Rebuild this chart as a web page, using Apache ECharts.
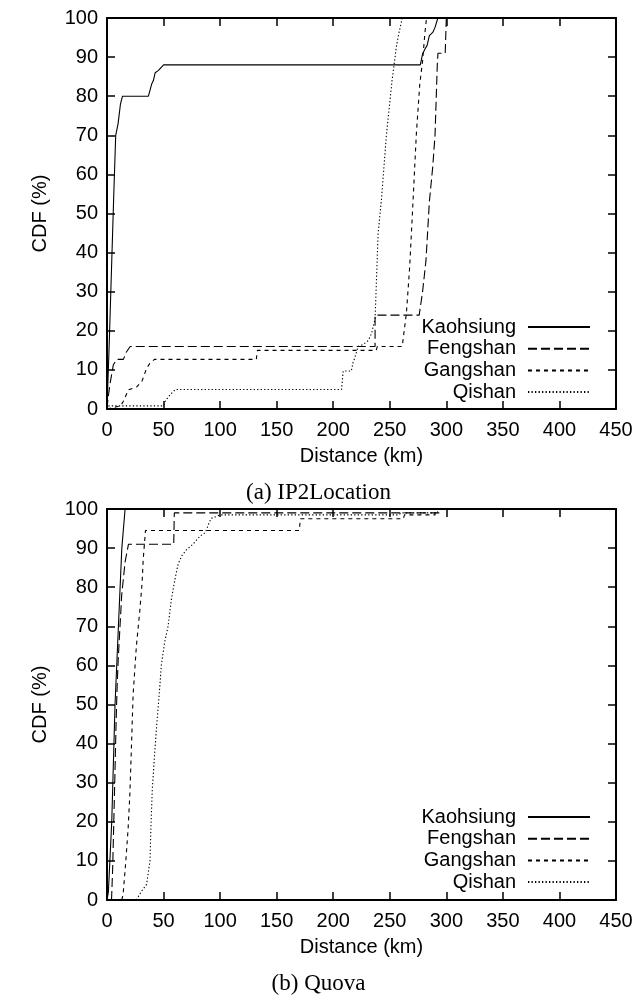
<!DOCTYPE html>
<html>
<head>
<meta charset="utf-8">
<script src="https://cdn.jsdelivr.net/npm/echarts@6/dist/echarts.min.js"></script>
<style>
  html, body { margin: 0; padding: 0; background: #fff; }
  #chart { width: 637px; height: 1000px; }
</style>
</head>
<body>
<div id="chart"></div>
<script>
// Series names (legend order)
const names = ['Kaohsiung', 'Fengshan', 'Gangshan', 'Qishan'];

// Axis ranges
const xMax = 450;
const xStep = 50;
const yMax = 100;
const yStep = 10;

// (a) IP2Location - [distance km, CDF %]
const ipKaohsiung = [[0,0],[2,17],[4,36],[6,55],[7.7,70],[9.8,73],[11.9,78],[13.7,80],[36.6,80],[38,81.5],[39.6,83.2],[41,84],[42.6,86],[45.5,86.6],[47,87],[50,88],[277,88],[279,90.8],[281,92],[283,93],[285,95.5],[288,96.3],[290,97.6],[292.5,100]];
const ipFengshan = [[0,0],[1,3],[3,7],[5.6,11.3],[8.6,12.7],[14.5,12.7],[17,14.5],[20.5,16],[237,16],[237,24],[276,24],[279,30],[282,38],[285,53],[288,62],[290,70],[292,88],[292.6,91],[299,91],[300,100]];
const ipGangshan = [[0,0],[12,0.8],[14.5,2],[19,4.9],[26.5,5.7],[31,7.2],[35,10.4],[38,11.7],[42,12.7],[132,12.7],[133,15],[238,15],[239,16],[261,16],[264.7,24.5],[267.6,36.4],[270.6,53.4],[273.5,70.4],[276.5,83],[279,89],[281,96],[282.5,100]];
const ipQishan = [[0,0],[1,0.8],[50,0.8],[51.5,2],[54,3],[57,4],[60.5,5],[207.4,5],[208.8,9.7],[216,9.7],[217.6,12],[219,13],[222,16],[226.5,16.5],[231,17.5],[234,19.4],[235.3,21],[237,23],[239.7,45],[242.6,53.4],[247,70],[252,84],[256,93],[258,96],[261,100]];

// (b) Quova - [distance km, CDF %]
const qvKaohsiung = [[0,0],[1.2,2],[4.2,20],[7.1,50],[10.1,70],[13.1,90],[16,100]];
const qvFengshan = [[4,0],[5,8],[6,20],[7,32],[8,45],[9,55],[10,62],[11.5,70],[13,78],[16,86.5],[18,89.5],[19,91],[59,91],[59.5,99],[294,99],[295,100]];
const qvGangshan = [[13,0],[14.2,1.3],[16.6,9.8],[18.7,18.4],[20.2,27],[21.7,40],[23.1,52.6],[26,65],[29,74],[31,81],[32,87],[34,94.5],[170,94.5],[171,97.5],[262,97.5],[263,98.5],[290,98.5],[291,100]];
const qvQishan = [[26,0],[30,2],[35,4],[38,10],[39,20],[40,28],[42,37],[44,45],[46,52],[48,60],[51,66],[54,70],[57,77],[60,82],[63,86],[66,88],[70,89.5],[76,91],[82,93],[87,94],[90,96.3],[92,97.6],[96,98],[100,98.5],[258,98.5],[260,99],[292,99],[293,100]];

const captions = ['(a) IP2Location', '(b) Quova'];

const sans = 'Liberation Sans, Arial, sans-serif';
const serif = 'Liberation Serif, Times New Roman, serif';

// line look for each curve, gnuplot style
const dashes = ['solid', [9, 4], [4, 4], [1.3, 2.2]];

const gridTops = [18, 509];
const gridH = 391;

function xAxes(gi) {
  const base = {
    gridIndex: gi, type: 'value', min: 0, max: xMax, interval: xStep,
    axisLine: { show: true, onZero: false, lineStyle: { color: '#000', width: 2 } },
    axisTick: { show: true, inside: true, length: 8, lineStyle: { color: '#000', width: 1.5 } },
    splitLine: { show: false }
  };
  return [
    Object.assign({}, base, {
      position: 'bottom',
      axisLabel: { fontFamily: sans, fontSize: 20, color: '#000', margin: 11 },
      name: 'Distance (km)', nameLocation: 'middle', nameGap: 37,
      nameTextStyle: { fontFamily: sans, fontSize: 20, color: '#000' }
    }),
    Object.assign({}, base, { position: 'top', axisLabel: { show: false } })
  ];
}

function yAxes(gi) {
  const base = {
    gridIndex: gi, type: 'value', min: 0, max: yMax, interval: yStep,
    axisLine: { show: true, onZero: false, lineStyle: { color: '#000', width: 2 } },
    axisTick: { show: true, inside: true, length: 8, lineStyle: { color: '#000', width: 1.5 } },
    splitLine: { show: false }
  };
  return [
    Object.assign({}, base, {
      position: 'left',
      axisLabel: { fontFamily: sans, fontSize: 20, color: '#000', margin: 9 },
      name: 'CDF (%)', nameLocation: 'middle', nameGap: 57, nameRotate: 90,
      nameTextStyle: { fontFamily: sans, fontSize: 20, color: '#000' }
    }),
    Object.assign({}, base, { position: 'right', axisLabel: { show: false } })
  ];
}

function makeSeries(data, i, gi) {
  return {
    name: names[i], type: 'line', data: data,
    xAxisIndex: gi * 2, yAxisIndex: gi * 2,
    symbol: 'none', animation: false, silent: true,
    itemStyle: { color: '#000' },
    lineStyle: { color: '#000', width: 1.1, type: dashes[i] }
  };
}

function makeLegend(top) {
  return {
    data: names, orient: 'vertical', right: 41, top: top, align: 'right',
    itemWidth: 62, itemHeight: 10, itemGap: 1.7, selectedMode: false,
    // hide the round marker, keep only the line sample
    itemStyle: { opacity: 0 },
    textStyle: { fontFamily: sans, fontSize: 20, lineHeight: 20, color: '#000', padding: [0, 7, 0, 0] }
  };
}

const chart = echarts.init(document.getElementById('chart'), null, { renderer: 'canvas' });

const option = {
  backgroundColor: '#fff',
  animation: false,
  title: [
    { text: captions[0], left: 'center', top: 476, textStyle: { fontFamily: serif, fontSize: 23, fontWeight: 'normal', color: '#000' } },
    { text: captions[1], left: 'center', top: 967, textStyle: { fontFamily: serif, fontSize: 23, fontWeight: 'normal', color: '#000' } }
  ],
  legend: [makeLegend(312), makeLegend(802)],
  grid: gridTops.map(t => ({ left: 107, width: 509, top: t, height: gridH, containLabel: false })),
  xAxis: [...xAxes(0), ...xAxes(1)],
  yAxis: [...yAxes(0), ...yAxes(1)],
  series: [
    makeSeries(ipKaohsiung, 0, 0),
    makeSeries(ipFengshan, 1, 0),
    makeSeries(ipGangshan, 2, 0),
    makeSeries(ipQishan, 3, 0),
    makeSeries(qvKaohsiung, 0, 1),
    makeSeries(qvFengshan, 1, 1),
    makeSeries(qvGangshan, 2, 1),
    makeSeries(qvQishan, 3, 1)
  ]
};

chart.setOption(option);
</script>
</body>
</html>
